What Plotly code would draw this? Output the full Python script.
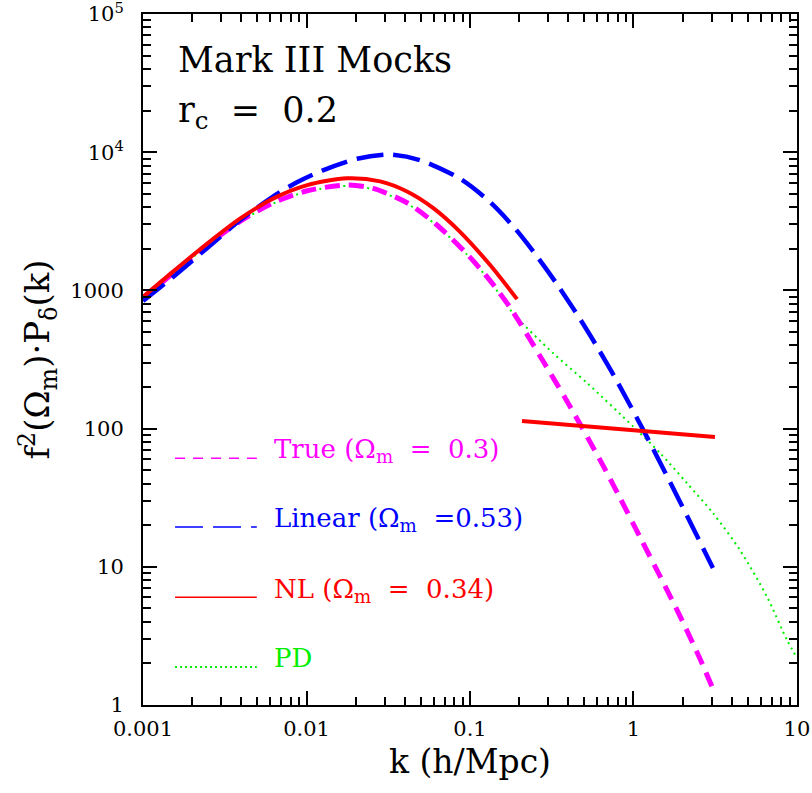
import plotly.graph_objects as go

# Power spectra f^2(Omega_m) * P_delta(k), Mark III mocks, r_c = 0.2
k_true = [0.001, 0.00152, 0.00246, 0.00392, 0.00624, 0.0101, 0.0177, 0.0255, 0.0412,
          0.0628, 0.0959, 0.132, 0.176, 0.202, 0.268, 0.392, 0.624, 0.826, 1.096,
          1.453, 1.925, 2.55, 3.06]
p_true = [879, 1321, 2109, 3162, 4295, 5260, 5781, 5470, 4305,
          2972, 1832, 1186, 752, 582, 335, 158, 59.4, 31.6, 16.4,
          8.55, 4.40, 2.16, 1.31]

k_lin = [0.001, 0.00152, 0.00246, 0.00392, 0.00624, 0.00875, 0.0126, 0.0204, 0.0324,
         0.0494, 0.0869, 0.132, 0.188, 0.257, 0.340, 0.471, 0.598, 0.793, 1.175,
         1.745, 2.31, 3.06]
p_lin = [838, 1247, 2018, 3214, 4775, 6053, 7396, 8974, 9616,
         8770, 6427, 4375, 2818, 1762, 1112, 621, 392, 220, 92.7,
         37.2, 19.2, 9.8]

k_nl = [0.001, 0.00152, 0.00246, 0.00392, 0.00624, 0.0101, 0.0177, 0.0282, 0.0412,
        0.0594, 0.0869, 0.132, 0.194]
p_nl = [896, 1361, 2173, 3304, 4613, 5781, 6471, 6152, 5200,
        3954, 2655, 1538, 865]

k_nl_hi = [0.208, 3.15]
p_nl_hi = [113.5, 87]

k_pd = [0.001, 0.00152, 0.00246, 0.00392, 0.00624, 0.0101, 0.0177, 0.0255, 0.0412,
        0.0628, 0.0959, 0.132, 0.183, 0.322, 0.520, 1.0, 1.453, 2.12, 3.06,
        4.48, 6.56, 8.69, 10.0]
p_pd = [879, 1321, 2100, 3140, 4250, 5200, 5710, 5400, 4250,
        2940, 1815, 1176, 686, 352, 214, 103, 66.6, 40.4, 24.5,
        13.2, 6.05, 2.95, 2.19]

x_ticks = [0.001, 0.01, 0.1, 1, 10]
x_ticktext = ["0.001", "0.01", "0.1", "1", "10"]
y_ticks = [1, 10, 100, 1000, 1e4, 1e5]
y_ticktext = ["1", "10", "100", "1000", "10<sup>4</sup>", "10<sup>5</sup>"]

MAGENTA = "#ff00ff"
BLUE = "#0000ff"
RED = "#ff0000"
GREEN = "#00ee00"
FONT = "DejaVu Serif"

fig = go.Figure()
fig.add_trace(go.Scatter(x=k_pd, y=p_pd, mode="lines", line_shape="spline",
                         line=dict(color=GREEN, width=2, dash="2px,4px", smoothing=0.8)))
fig.add_trace(go.Scatter(x=k_true, y=p_true, mode="lines", line_shape="spline",
                         line=dict(color=MAGENTA, width=5, dash="15px,9px", smoothing=0.8)))
fig.add_trace(go.Scatter(x=k_lin, y=p_lin, mode="lines", line_shape="spline",
                         line=dict(color=BLUE, width=4.5, dash="27px,10px", smoothing=0.8)))
fig.add_trace(go.Scatter(x=k_nl, y=p_nl, mode="lines", line_shape="spline",
                         line=dict(color=RED, width=4, smoothing=0.8)))
fig.add_trace(go.Scatter(x=k_nl_hi, y=p_nl_hi, mode="lines",
                         line=dict(color=RED, width=4)))

# hand-drawn key: sample line + label for each curve
key = [
    ("True (Ω<sub>m</sub>  =  0.3)", MAGENTA, "10px,8px", 1.5, 0.357, 0.369),
    ("Linear (Ω<sub>m</sub>  =0.53)", BLUE, "28px,10px", 1.5, 0.2576, 0.268),
    ("NL (Ω<sub>m</sub>  =  0.34)", RED, "solid", 1.5, 0.156, 0.166),
    ("PD", GREEN, "2px,3px", 2, 0.055, 0.068),
]
for label, color, dash, lw, ly, ty in key:
    fig.add_shape(type="line", xref="paper", yref="paper", x0=0.049, x1=0.174,
                  y0=ly, y1=ly, line=dict(color=color, width=lw, dash=dash))
    fig.add_annotation(xref="paper", yref="paper", x=0.197, y=ty, text=label,
                       showarrow=False, xanchor="left", yanchor="middle",
                       font=dict(family=FONT, size=26, color=color))

fig.add_annotation(xref="paper", yref="paper", x=0.050, y=0.933, text="Mark III Mocks",
                   showarrow=False, xanchor="left", yanchor="middle",
                   font=dict(family=FONT, size=35, color="black"))
fig.add_annotation(xref="paper", yref="paper", x=0.050, y=0.858,
                   text="r<sub>c</sub>  =  0.2",
                   showarrow=False, xanchor="left", yanchor="middle",
                   font=dict(family=FONT, size=35, color="black"))

axis_common = dict(
    type="log", showgrid=False, zeroline=False, automargin=False,
    showline=True, linewidth=2, linecolor="black", mirror="ticks",
    ticks="inside", ticklen=14, tickwidth=1.5, tickcolor="black",
    minor=dict(ticks="inside", ticklen=8, tickwidth=1.5, tickcolor="black",
               dtick="D1", showgrid=False),
    tickfont=dict(family=FONT, size=21, color="black"),
    ticklabeloverflow="allow",
)

fig.update_layout(
    width=812, height=793,
    margin=dict(l=143, r=15, t=14, b=88),
    paper_bgcolor="white", plot_bgcolor="white",
    showlegend=False,
    xaxis=dict(axis_common, range=[-3, 1.0001], tickvals=x_ticks, ticktext=x_ticktext,
               ticklabelstandoff=4,
               title=dict(text="k (h/Mpc)", standoff=10,
                          font=dict(family=FONT, size=33, color="black"))),
    yaxis=dict(axis_common, range=[-0.0001, 5.0001], tickvals=y_ticks, ticktext=y_ticktext,
               ticklabelstandoff=13,
               title=dict(text="f<sup>2</sup>(Ω<sub>m</sub>)·P<sub>δ</sub>(k)", standoff=10,
                          font=dict(family=FONT, size=34, color="black"))),
)

fig.write_html("out.html")
